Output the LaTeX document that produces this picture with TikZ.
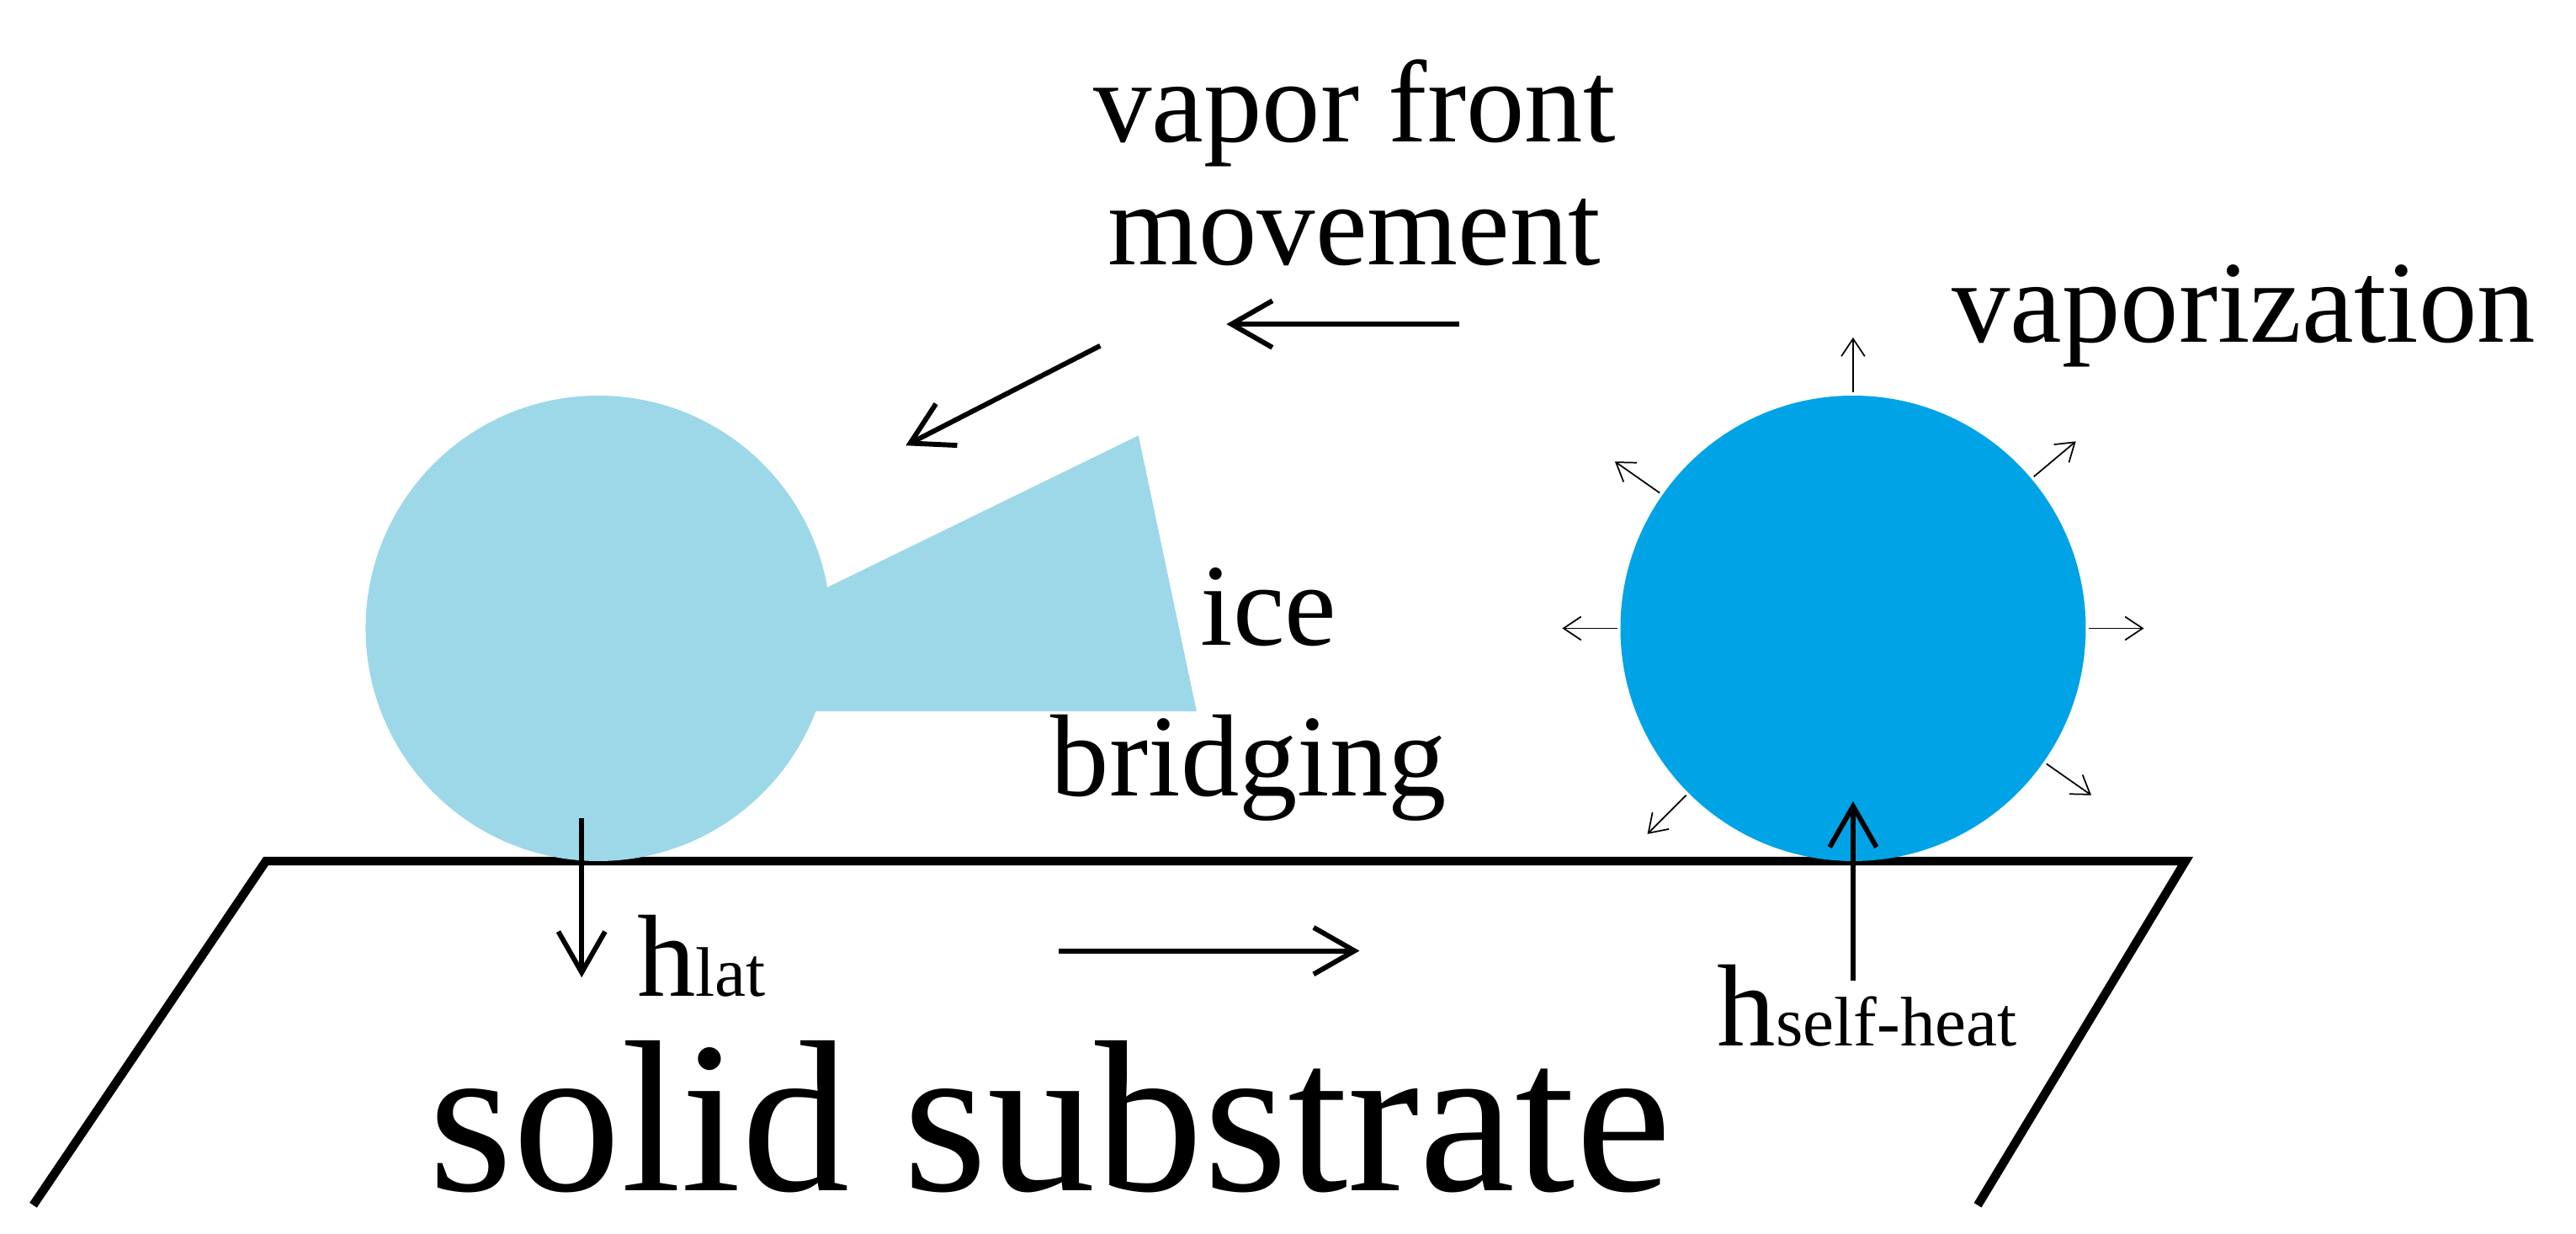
\documentclass[tikz,border=0pt]{standalone}
\usepackage{fontspec}
\setmainfont{Liberation Serif}
\usetikzlibrary{arrows.meta}
\definecolor{lightice}{HTML}{9DD8E9}
\definecolor{darkdrop}{HTML}{00A3E6}
\begin{document}
\begin{tikzpicture}[x=0.02cm,y=-0.02cm,
  arr/.style={line width=1.7pt,-{Straight Barb[length=14pt,width=16pt]}},
  thin arr/.style={line width=0.5pt,-{Straight Barb[length=6pt,width=8pt]}},
  lab/.style={font=\fontsize{40}{44}\selectfont,inner sep=0pt}]
\useasboundingbox (0,0) rectangle (1550,742);
% substrate
\draw[line width=3pt,line join=miter] (20,725) -- (160,518) -- (1315,518) -- (1190,725);
% ice particle
\fill[lightice] (360,378) circle (140);
\fill[lightice] (480,362) -- (685,262) -- (720,428) -- (480,428) -- cycle;
% drop
\fill[darkdrop] (1115,378) circle (140);
% small arrows
\coordinate (c) at (1115,378);
\foreach \a in {-90,-145,180,-225,-40,0,35}{
  \draw[thin arr] ([shift={(\a:142)}]c) -- ([shift={(\a:175)}]c);
}
% arrows
\coordinate (hs1) at (1115,590); \coordinate (hs2) at (1115,482);
\draw[arr] (hs1) -- (hs2);
\coordinate (hl1) at (350,492); \coordinate (hl2) at (350,588);
\draw[arr] (hl1) -- (hl2);
\coordinate (r1) at (637,572); \coordinate (r2) at (818,572);
\draw[arr] (r1) -- (r2);
\coordinate (l1) at (878,195); \coordinate (l2) at (738,195);
\draw[arr] (l1) -- (l2);
\coordinate (d1) at (662,208); \coordinate (d2) at (545,268);
\draw[arr] (d1) -- (d2);
% texts
\node[lab] (vf) at (815,68) {vapor front};
\node[lab] (mv) at (815,140) {movement};
\node[lab] (vp) at (1350,190) {vaporization};
\node[lab,anchor=west] (ice) at (722,365) {ice};
\node[lab,anchor=west] (br) at (632,462) {bridging};
\node[inner sep=0pt,anchor=west] (hl) at (383,575) {\fontsize{40}{44}\selectfont h\fontsize{24}{26}\selectfont lat};
\node[inner sep=0pt,anchor=west] (hs) at (1033,605) {\fontsize{40}{44}\selectfont h\fontsize{24}{26}\selectfont self-heat};
\node[inner sep=0pt,font=\fontsize{74}{80}\selectfont] (ss) at (632,672) {solid substrate};
\end{tikzpicture}
\end{document}
